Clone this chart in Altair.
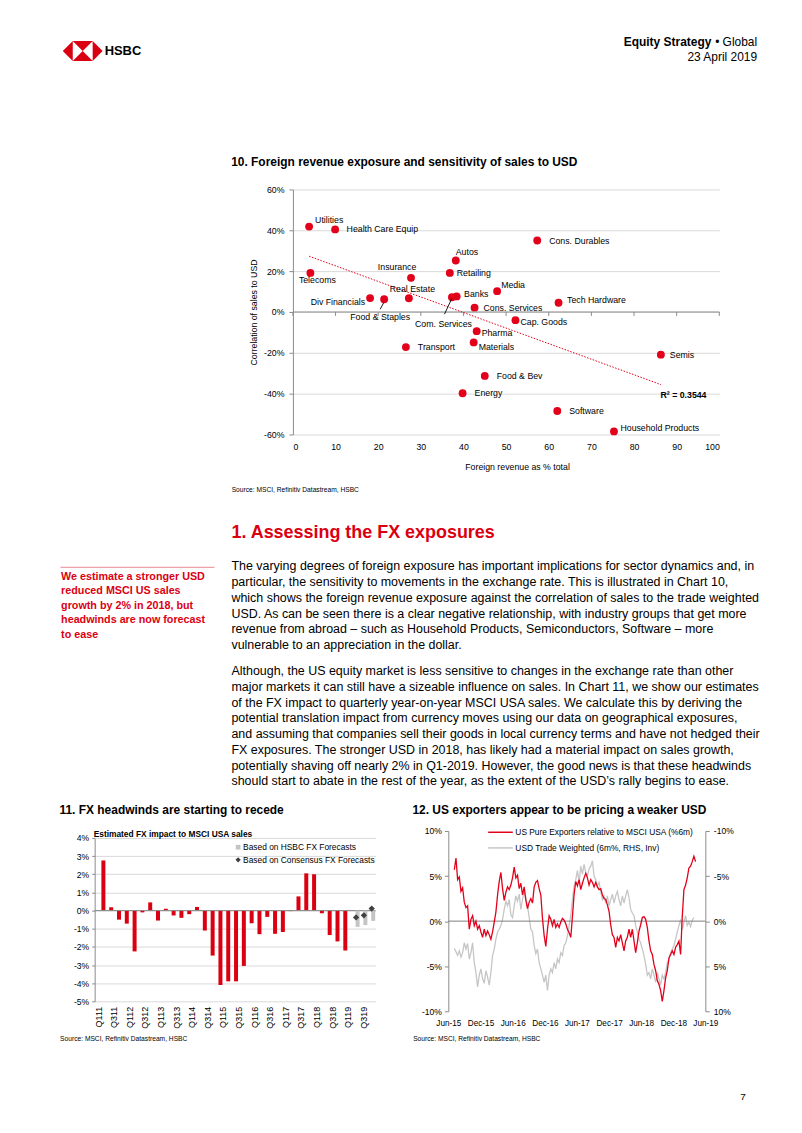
import altair as alt
import pandas as pd

FONT = "Liberation Sans"
HSBC_RED = "#db0011"
DOT_RED = "#e2001a"
INK = "#000000"
GRID = "#d9d9d9"
AXIS = "#8c8c8c"

# ---------------- header / page texts
BRAND = "HSBC"
SERIES_BOLD = "Equity Strategy"
SERIES_REG = "\u2022 Global"
PUB_DATE = "23 April 2019"
PAGE_NO = "7"
LOGO_PATH = ("M-1,0L-0.5,-0.5L-0.5,0.5Z M1,0L0.5,-0.5L0.5,0.5Z "
             "M-0.5,-0.5L0.5,-0.5L0,0Z M-0.5,0.5L0.5,0.5L0,0Z")
SOURCE = "Source: MSCI, Refinitiv Datastream, HSBC"

# ---------------- chart 10 data
TITLE_10 = "10. Foreign revenue exposure and sensitivity of sales to USD"
SECTORS = ["Utilities", "Health Care Equip", "Telecoms", "Insurance", "Autos",
           "Retailing", "Cons. Durables", "Media", "Banks", "Com. Services",
           "Cons. Services", "Tech Hardware", "Div Financials", "Food & Staples",
           "Real Estate", "Cap. Goods", "Pharma", "Materials", "Transport",
           "Semis", "Food & Bev", "Energy", "Software", "Household Products"]
FOREIGN_REV = [3.8, 9.9, 4.1, 27.7, 38.2, 36.8, 57.3, 47.9, 38.4, 37.3,
               42.6, 62.3, 18.1, 21.4, 27.2, 52.2, 43.1, 42.4, 26.5, 86.3,
               45.0, 39.8, 62.0, 75.3]
CORR_USD = [41.8, 40.4, 19.1, 16.7, 25.2, 19.1, 35.0, 10.2, 7.6, 7.2,
            2.1, 4.5, 6.8, 6.2, 6.7, -4.0, -9.4, -14.9, -17.2, -20.9,
            -31.3, -39.8, -48.5, -58.5]
X10_TICKS = [0, 10, 20, 30, 40, 50, 60, 70, 80, 90, 100]
Y10_TICKS = [-60, -40, -20, 0, 20, 40, 60]
X10_TITLE = "Foreign revenue as % total"
Y10_TITLE = "Correlation of sales to USD"
R2_TEXT = "R\u00b2 = 0.3544"

# ---------------- text block
HEADING = "1. Assessing the FX exposures"
SIDEBAR = ["We estimate a stronger USD", "reduced MSCI US sales",
           "growth by 2% in 2018, but", "headwinds are now forecast", "to ease"]
PARA1 = [
    "The varying degrees of foreign exposure has important implications for sector dynamics and, in",
    "particular, the sensitivity to movements in the exchange rate. This is illustrated in Chart 10,",
    "which shows the foreign revenue exposure against the correlation of sales to the trade weighted",
    "USD. As can be seen there is a clear negative relationship, with industry groups that get more",
    "revenue from abroad \u2013 such as Household Products, Semiconductors, Software \u2013 more",
    "vulnerable to an appreciation in the dollar.",
]
PARA2 = [
    "Although, the US equity market is less sensitive to changes in the exchange rate than other",
    "major markets it can still have a sizeable influence on sales. In Chart 11, we show our estimates",
    "of the FX impact to quarterly year-on-year MSCI USA sales. We calculate this by deriving the",
    "potential translation impact from currency moves using our data on geographical exposures,",
    "and assuming that companies sell their goods in local currency terms and have not hedged their",
    "FX exposures. The stronger USD in 2018, has likely had a material impact on sales growth,",
    "potentially shaving off nearly 2% in Q1-2019. However, the good news is that these headwinds",
    "should start to abate in the rest of the year, as the extent of the USD\u2019s rally begins to ease.",
]

# ---------------- chart 11 data
TITLE_11 = "11. FX headwinds are starting to recede"
SUBTITLE_11 = "Estimated FX impact to MSCI USA sales"
LEGEND_11 = ["Based on HSBC FX Forecasts", "Based on Consensus FX Forecasts"]
QUARTERS = ["Q111", "Q211", "Q311", "Q411", "Q112", "Q212", "Q312", "Q412",
            "Q113", "Q213", "Q313", "Q413", "Q114", "Q214", "Q314", "Q414",
            "Q115", "Q215", "Q315", "Q415", "Q116", "Q216", "Q316", "Q416",
            "Q117", "Q217", "Q317", "Q417", "Q118", "Q218", "Q318", "Q418",
            "Q119", "Q219", "Q319", "Q419"]
ACTUAL_Q = QUARTERS[1:33]
FX_IMPACT = [2.76, 0.18, -0.5, -0.72, -2.25, -0.1, 0.45, -0.55, 0.1, -0.27,
             -0.4, -0.2, 0.2, -1.1, -2.48, -4.1, -3.9, -3.9, -3.05, -0.7,
             -1.3, -0.35, -1.28, -1.18, -0.03, 0.78, 2.05, 2.0, -0.15, -1.35,
             -1.7, -2.2]
FC_Q = ["Q219", "Q319", "Q419"]
HSBC_FC = [-0.9, -0.8, -0.57]
CONSENSUS_FC = [-0.38, -0.26, 0.11]
Y11_TICKS = [-5, -4, -3, -2, -1, 0, 1, 2, 3, 4]

# ---------------- chart 12 data
TITLE_12 = "12. US exporters appear to be pricing a weaker USD"
LEGEND_12 = ["US Pure Exporters relative to MSCI USA (%6m)",
             "USD Trade Weighted (6m%, RHS, Inv)"]
SERIES_START = "2015-07-05"
SERIES_STEP = "227h"
PURE_EXPORTERS = [
    5.7, 7.0, 4.6, 4.9, 3.3, 3.7, 2.1, 1.5, 1.7, -0.9,
    0.2, 0.6, -0.5, 0.0, -0.9, -0.5, -1.2, -1.8, -0.9, -1.6,
    -1.1, -1.5, -2.0, -1.2, -0.1, 1.0, 2.9, 4.4, 5.4, 3.6,
    2.3, 3.2, 3.8, 3.5, 4.0, 4.8, 6.0, 4.8, 5.1, 3.6,
    4.2, 2.9, 3.8, 2.3, 1.4, 2.1, 2.5, 2.0, 3.8, 4.3,
    4.5, 3.6, 2.9, 0.3, -1.6, -2.8, -0.9, 0.6, 0.2, -0.5,
    0.2, -0.7, -0.3, -0.7, -0.1, 0.3, 0.1, -0.3, -0.9, -1.3,
    -1.8, 0.5, 3.0, 4.4,
    3.9, 4.6, 3.5, 4.2, 4.8, 5.3, 4.8, 4.0, 4.6, 4.3,
    3.8, 4.3, 3.8, 3.5, 3.6, 2.9, 2.5, 2.4, 1.8, 1.1,
    -0.4, -1.5, -1.8, -2.9, -1.8, -2.2, -1.5, -2.4, -3.3, -2.2,
    -1.8, -0.9, -1.8, -0.9, -2.2, -3.5, -2.4, -1.1, -0.4, 0.4,
    0.5, 0.2, -0.7, -2.2, -3.3, -3.7, -4.8, -5.5, -6.6, -7.0,
    -7.7, -8.9, -7.7, -6.3, -5.5, -4.1, -3.7, -3.3, -3.7, -2.9,
    -2.6, -2.2, -3.7, 0.5, 3.5, 4.0, 4.8, 5.9, 6.1, 6.6,
    7.2, 6.6]
USD_TW = [
    3.0, 3.4, 3.8, 3.3, 4.0, 3.5, 2.4, 3.1, 2.5, 4.2,
    3.5, 2.4, 4.6, 5.7, 7.3, 6.0, 5.3, 6.4, 6.9, 5.5,
    6.2, 7.1, 5.7, 3.8, 3.1, 2.0, 1.2, 0.9, 0.5, -0.2,
    -1.3, -2.2, -1.7, -2.4, -0.7, -0.4, -1.7, -2.8, -2.2, -3.0,
    -1.3, -2.4, -3.3, -2.6, -1.7, -0.4, 0.9, 1.2, 2.7, 3.6,
    3.1, 4.6, 5.3, 6.0, 6.8, 6.0, 7.7, 6.0, 5.3, 5.7,
    4.6, 5.3, 4.2, 4.6, 3.5, 3.8, 2.7, 2.4, 1.6, 0.5,
    -0.6, -2.4, -3.9, -4.6,
    -5.6, -4.3, -6.1, -5.2, -6.3, -5.4, -5.0, -5.8, -6.1, -6.7,
    -5.0, -4.6, -3.9, -4.3, -3.3, -2.4, -2.8, -2.0, -2.8, -1.7,
    -2.4, -3.0, -2.0, -2.8, -3.3, -2.4, -1.7, -2.8, -2.0, -2.8,
    -3.5, -2.6, -1.3, -0.9, -0.6, 0.5, 1.2, 2.0, 2.4, 3.1,
    3.8, 4.8, 6.0, 5.7, 6.4, 5.3, 6.0, 6.8, 5.7, 6.4,
    7.1, 6.0, 6.4, 5.7, 4.6, 4.2, 3.5, 3.1, 2.7, 2.0,
    1.2, 0.5, -0.2, 0.9, 0.1, -0.6, 0.5, 0.1, 0.6, -0.1, -0.4]
X12_TICKS = [(2015, 6), (2015, 12), (2016, 6), (2016, 12), (2017, 6),
             (2017, 12), (2018, 6), (2018, 12), (2019, 6)]
Y12_TICKS = [-10, -5, 0, 5, 10]

# ---------------- label placement (styling, pixel offsets)
LABEL_PLACE = {
    "Utilities": (6, -6.5, "left"),
    "Health Care Equip": (11.5, 0, "left"),
    "Telecoms": (7, 7.5, "center"),
    "Insurance": (-14, -10.5, "center"),
    "Autos": (0, -9, "left"),
    "Retailing": (7, 0, "left"),
    "Cons. Durables": (12, 0.5, "left"),
    "Media": (4, -6.5, "left"),
    "Banks": (7.5, -2.5, "left"),
    "Com. Services": (-8.5, 26.5, "center"),
    "Cons. Services": (9, 0, "left"),
    "Tech Hardware": (8.5, -2.5, "left"),
    "Div Financials": (-5, 3.5, "right"),
    "Food & Staples": (-4, 17.5, "center"),
    "Real Estate": (3.5, -9.5, "center"),
    "Cap. Goods": (5, 1.5, "left"),
    "Pharma": (5, 1.5, "left"),
    "Materials": (5, 4.5, "left"),
    "Transport": (12, 0, "left"),
    "Semis": (9, 0, "left"),
    "Food & Bev": (12, 0, "left"),
    "Energy": (12, 0, "left"),
    "Software": (12, 0, "left"),
    "Household Products": (6.5, -3, "left"),
}
LEADERS = {"Com. Services": (0, 1, -7.5, 17), "Food & Staples": (-0.5, 3.5, -4, 10)}

ONE = pd.DataFrame({"v": [0]})


def spacer(w, h):
    return alt.Chart(ONE).mark_point(opacity=0).encode(
        x=alt.value(0), y=alt.value(0)).properties(width=w, height=h)


def txt(text, x, y, size, weight="normal", color=INK, align="left",
        baseline="middle", line_height=None):
    kw = dict(text=text, fontSize=size, fontWeight=weight, color=color,
              align=align, baseline=baseline, font=FONT)
    if line_height is not None:
        kw["lineHeight"] = line_height
    return alt.Chart(ONE).mark_text(**kw).encode(x=alt.value(x), y=alt.value(y))


# =============== header view ===============
logo = alt.Chart(ONE).mark_point(shape=LOGO_PATH, filled=True, color=HSBC_RED,
                                 opacity=1, size=1600, strokeWidth=0).encode(
    x=alt.value(72), y=alt.value(41))
header = alt.layer(
    logo,
    txt(BRAND, 94, 41, 13, "bold"),
    txt(SERIES_BOLD, 703, 32.5, 12, "bold", align="right"),
    txt(SERIES_REG, 749, 32.5, 12, align="right"),
    txt(PUB_DATE, 749, 47, 12, align="right"),
    txt(TITLE_10, 221, 152, 12, "bold"),
).properties(width=786, height=180)

# =============== chart 10 ===============
df10 = pd.DataFrame({"sector": SECTORS, "foreign": FOREIGN_REV, "corr": CORR_USD})
base10 = alt.Chart(df10)
XS10 = alt.Scale(domain=[0, 100], nice=False, zero=False)
YS10 = alt.Scale(domain=[-60, 60], nice=False, zero=False)
AX10X = alt.Axis(
    values=X10_TICKS, ticks=False, domain=False, grid=False,
    labelFontSize=8.8, labelPadding=8, labelColor=INK,
    title=X10_TITLE, titleFontSize=8.8, titleFontWeight="normal",
    titleX=225, titleY=32, titleBaseline="middle", titleAlign="center",
    titleColor=INK)
AX10Y = alt.Axis(
    values=Y10_TICKS, labelExpr="datum.value + '%'", grid=True,
    gridColor=GRID, tickSize=4, tickColor=AXIS, domainColor=AXIS,
    labelFontSize=8.8, labelPadding=5, labelColor=INK,
    title=Y10_TITLE, titleFontSize=8.8, titleFontWeight="normal",
    titleAngle=270, titleX=-40, titleY=123, titleBaseline="middle",
    titleAlign="center", titleColor=INK)
X10 = alt.X("foreign:Q", scale=XS10, axis=AX10X)
Y10 = alt.Y("corr:Q", scale=YS10, axis=AX10Y)

points = base10.mark_circle(size=62, color=DOT_RED, opacity=1).encode(x=X10, y=Y10)
zero10 = alt.Chart(ONE).mark_rule(color=AXIS, strokeWidth=1).encode(
    y=alt.YDatum(0, scale=YS10, axis=AX10Y))
ticks10 = alt.Chart(pd.DataFrame({"t": X10_TICKS})).mark_rule(
    color=AXIS, y2Offset=4).encode(
    x=alt.X("t:Q", scale=XS10, axis=AX10X),
    y=alt.YDatum(0, scale=YS10, axis=AX10Y), y2=alt.datum(0))
trend = base10.transform_regression("foreign", "corr").mark_line(
    color=DOT_RED, strokeWidth=1, strokeDash=[1.5, 1.5]).encode(x=X10, y=Y10)

groups = {}
for name, place in LABEL_PLACE.items():
    groups.setdefault(place, []).append(name)
label_layers = []
for (dx, dy, al), names in groups.items():
    label_layers.append(
        base10.transform_filter(alt.FieldOneOfPredicate(field="sector", oneOf=names))
        .mark_text(dx=dx, dy=dy, align=al, baseline="middle", fontSize=8.8,
                   font=FONT, color=INK)
        .encode(x=X10, y=Y10, text="sector:N"))
leader_layers = []
for name, (ox, oy, ox2, oy2) in LEADERS.items():
    leader_layers.append(
        base10.transform_filter(alt.datum.sector == name)
        .mark_rule(color=INK, strokeWidth=0.9, xOffset=ox, yOffset=oy,
                   x2Offset=ox2, y2Offset=oy2)
        .encode(x=X10, x2="foreign:Q", y=Y10, y2="corr:Q"))
r2 = txt(R2_TEXT, 369, 206.7, 8.8, "bold")

chart10 = alt.layer(points, zero10, ticks10, trend, *leader_layers,
                    *label_layers, r2).properties(width=428, height=246)
row10 = alt.hconcat(spacer(283, 246), chart10, spacing=0, bounds="flush")

# =============== text block ===============
text_block = alt.layer(
    txt(SOURCE, 221.5, 55.3, 6.7),
    txt(HEADING, 221.3, 104.2, 18, "bold", HSBC_RED, baseline="alphabetic"),
    alt.Chart(ONE).mark_rule(color="#f0a0a8", strokeWidth=1.2).encode(
        x=alt.value(49.7), x2=alt.value(204.3), y=alt.value(133.3)),
    txt(SIDEBAR, 50.3, 145.6, 10.8, "bold", HSBC_RED, baseline="alphabetic",
        line_height=14.6),
    txt(PARA1, 221.3, 136.5, 12.5, baseline="alphabetic", line_height=15.8),
    txt(PARA2, 221.3, 241.5, 12.5, baseline="alphabetic", line_height=15.8),
    txt(TITLE_11, 48.7, 376.7, 12, "bold"),
    txt(TITLE_12, 403, 376.7, 12, "bold"),
).properties(width=786, height=398)

# =============== chart 11 ===============
QS = alt.Scale(domain=QUARTERS, paddingInner=0, paddingOuter=0)
YS11 = alt.Scale(domain=[-5, 4], nice=False, zero=False)
AX11X = alt.Axis(values=QUARTERS[::2], labelAngle=270, ticks=False, domain=False,
                 labelFontSize=9, labelPadding=5, labelColor=INK, title=None,
                 labelOverlap=False)
AX11Y = alt.Axis(values=Y11_TICKS, labelExpr="datum.value + '%'", grid=True,
                 gridColor=GRID, tickSize=3, tickColor=AXIS, domainColor=AXIS,
                 labelFontSize=8.6, labelPadding=3, labelColor=INK, title=None)
X11 = alt.X("q:N", scale=QS, sort=QUARTERS, axis=AX11X)
Y11 = alt.Y("v:Q", scale=YS11, axis=AX11Y)
df11 = pd.DataFrame({"q": ACTUAL_Q, "v": FX_IMPACT})
dfh = pd.DataFrame({"q": FC_Q, "v": HSBC_FC})
dfc = pd.DataFrame({"q": FC_Q, "v": CONSENSUS_FC})

bars11 = alt.Chart(df11).mark_bar(width=4, xOffset=-3, color=HSBC_RED).encode(x=X11, y=Y11)
zero11 = alt.Chart(ONE).mark_rule(color=AXIS).encode(
    y=alt.YDatum(0, scale=YS11, axis=AX11Y))
hsbc11 = alt.Chart(dfh).mark_bar(width=4, xOffset=1.5, color="#c4c4c4").encode(x=X11, y=Y11)
cons11 = alt.Chart(dfc).mark_point(shape="diamond", filled=True, size=40,
                                   color="#404040", opacity=1).encode(x=X11, y=Y11)
leg11a = alt.Chart(ONE).mark_point(shape="square", filled=True, size=22,
                                   color="#c4c4c4", opacity=1).encode(
    x=alt.value(144), y=alt.value(9.3))
leg11b = alt.Chart(ONE).mark_point(shape="diamond", filled=True, size=28,
                                   color="#404040", opacity=1).encode(
    x=alt.value(144), y=alt.value(22))
chart11 = alt.layer(
    bars11, zero11, hsbc11, cons11, leg11a, leg11b,
    txt(SUBTITLE_11, -1, -4, 8.4, "bold"),
    txt(LEGEND_11[0], 149, 9.3, 8.4),
    txt(LEGEND_11[1], 149, 22, 8.4),
).properties(width=282, height=164)

# =============== chart 12 ===============
dates_r = pd.date_range(SERIES_START, periods=len(PURE_EXPORTERS), freq=SERIES_STEP)
dates_g = pd.date_range(SERIES_START, periods=len(USD_TW), freq=SERIES_STEP)
df_r = pd.DataFrame({"date": dates_r.strftime("%Y-%m-%dT%H:%M:%S"), "v": PURE_EXPORTERS})
df_g = pd.DataFrame({"date": dates_g.strftime("%Y-%m-%dT%H:%M:%S"), "v": USD_TW})
XS12 = alt.Scale(domain=[alt.DateTime(year=2015, month=6, date=1),
                         alt.DateTime(year=2019, month=6, date=1)], nice=False)
tick_dates = [alt.DateTime(year=y, month=m, date=1) for y, m in X12_TICKS]
AX12X = alt.Axis(values=tick_dates, format="%b-%y", ticks=False, domain=False,
                 grid=False, labelFontSize=8.2, labelPadding=8, labelColor=INK,
                 title=None, labelOverlap=False, labelFlush=False)
YS12L = alt.Scale(domain=[-10, 10], nice=False)
AX12L = alt.Axis(orient="left", values=Y12_TICKS, labelExpr="datum.value + '%'",
                 grid=False, tickSize=4, tickColor=AXIS, domainColor=AXIS,
                 labelFontSize=8.6, labelPadding=3, labelColor=INK, title=None)
X12 = alt.X("date:T", scale=XS12, axis=AX12X)

gray12 = alt.Chart(df_g).mark_line(color="#c6c6c6", strokeWidth=1.3).encode(
    x=X12,
    y=alt.Y("v:Q", scale=alt.Scale(domain=[-10, 10], nice=False, reverse=True),
            axis=alt.Axis(orient="right", values=Y12_TICKS,
                          labelExpr="datum.value + '%'", grid=False, tickSize=4,
                          tickColor=AXIS, domainColor=AXIS, labelFontSize=8.6,
                          labelPadding=4, labelColor=INK, title=None)))
zero12 = alt.Chart(ONE).mark_rule(color="#7f7f7f").encode(
    y=alt.YDatum(0, scale=YS12L, axis=AX12L))
red12 = alt.Chart(df_r).mark_line(color=DOT_RED, strokeWidth=1.3).encode(
    x=X12, y=alt.Y("v:Q", scale=YS12L, axis=AX12L))
left12 = alt.layer(zero12, red12)
leg12 = alt.layer(
    alt.Chart(ONE).mark_rule(color=DOT_RED, strokeWidth=1.5).encode(
        x=alt.value(40), x2=alt.value(64.7), y=alt.value(1.3)),
    alt.Chart(ONE).mark_rule(color="#c6c6c6", strokeWidth=1.5).encode(
        x=alt.value(40), x2=alt.value(64.7), y=alt.value(17)),
    txt(LEGEND_12[0], 67.3, 1.3, 8.4),
    txt(LEGEND_12[1], 67.3, 17, 8.4),
)
chart12 = alt.layer(gray12, left12, leg12).resolve_scale(y="independent").properties(
    width=258, height=181)

# nested concat groups count as zero-size in a flush layout, so spacers
# after them reserve their room
row_bottom = alt.hconcat(
    spacer(84, 181),
    alt.vconcat(spacer(282, 7), chart11, spacing=0, bounds="flush"),
    spacer(355, 181),
    chart12,
    spacing=0, bounds="flush")

# =============== footer ===============
footer = alt.layer(
    txt(SOURCE, 49.3, 27.7, 6.7),
    txt(SOURCE, 403.7, 27.7, 6.7),
    txt(PAGE_NO, 732, 86, 10),
).properties(width=786, height=104)

chart = alt.vconcat(header, row10, spacer(786, 246), text_block, row_bottom,
                    spacer(786, 181), footer,
                    spacing=0, bounds="flush").properties(
    padding=0, background="white"
).configure(font=FONT).configure_view(stroke=None)

chart.save("out.html", embed_options={"renderer": "svg", "actions": False})
